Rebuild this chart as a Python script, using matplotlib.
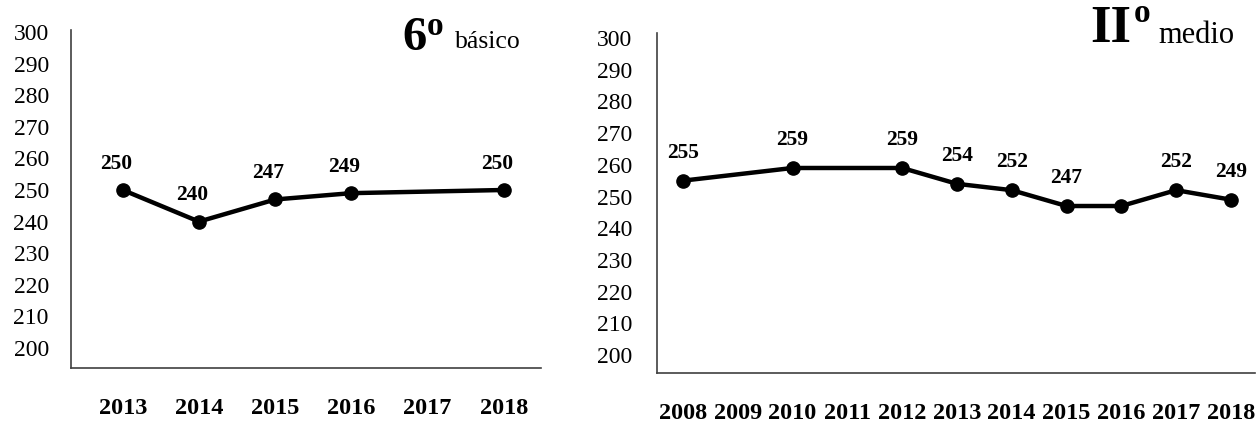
import matplotlib.pyplot as plt

plt.rcParams['font.family'] = ['Liberation Serif', 'DejaVu Serif']

# 6º básico
basico_ticks = [2013, 2014, 2015, 2016, 2017, 2018]
basico_years = [2013, 2014, 2015, 2016, 2018]
basico_vals = [250, 240, 247, 249, 250]
basico_labels = ['250', '240', '247', '249', '250']

# IIº medio
medio_ticks = [2008, 2009, 2010, 2011, 2012, 2013, 2014, 2015, 2016, 2017, 2018]
medio_years = [2008, 2010, 2012, 2013, 2014, 2015, 2016, 2017, 2018]
medio_vals = [255, 259, 259, 254, 252, 247, 247, 252, 249]
medio_labels = ['255', '259', '259', '254', '252', '247', '', '252', '249']

y_ticks = list(range(200, 301, 10))

W, H = 1257, 423
fig = plt.figure(figsize=(W / 100, H / 100), dpi=100)


def px_axes(x0, x1, y_top, y_bot):
    return fig.add_axes([x0 / W, (H - y_bot) / H, (x1 - x0) / W, (y_bot - y_top) / H])


def style(ax, ticks, xlim, ylim, ypad):
    for s in ['top', 'right']:
        ax.spines[s].set_visible(False)
    for s in ['left', 'bottom']:
        ax.spines[s].set_color('#404040')
        ax.spines[s].set_linewidth(1.2)
    ax.set_xlim(*xlim)
    ax.set_ylim(*ylim)
    ax.set_yticks(y_ticks)
    ax.set_xticks(ticks)
    ax.set_xticklabels([str(t) for t in ticks], fontsize=17.5, fontweight='bold')
    ax.tick_params(axis='y', length=0, pad=ypad, labelsize=17)
    ax.tick_params(axis='x', length=0, pad=21.5)


# left panel
ax1 = px_axes(71, 541, 30, 368)
ax1.plot(basico_years, basico_vals, color='black', lw=3.2, marker='o', ms=9.5)
for x, v, t in zip(basico_years, basico_vals, basico_labels):
    ax1.annotate(t, (x, v), xytext=(-5, 19), textcoords='offset points',
                 ha='center', va='center', fontsize=15.5, fontweight='bold')
style(ax1, basico_ticks, (2012.32, 2018.49), (193.7, 300.6), 16)

# right panel
ax2 = px_axes(657, 1255, 33, 373)
ax2.plot(medio_years, medio_vals, color='black', lw=3.2, marker='o', ms=9.5)
for x, v, t in zip(medio_years, medio_vals, medio_labels):
    if t:
        ax2.annotate(t, (x, v), xytext=(0, 20), textcoords='offset points',
                     ha='center', va='center', fontsize=15.5, fontweight='bold')
style(ax2, medio_ticks, (2007.526, 2018.44), (194.3, 301.6), 18)

# panel titles
fig.text(402 / W, (H - 50) / H, '6', fontsize=35, fontweight='bold', va='baseline')
fig.text(427 / W, (H - 35) / H, 'o', fontsize=24, fontweight='bold', va='baseline')
fig.text(455 / W, (H - 48) / H, 'básico', fontsize=18.5, va='baseline')

fig.text(1090 / W, (H - 42) / H, 'II', fontsize=38, fontweight='bold', va='baseline')
fig.text(1134 / W, (H - 22) / H, 'o', fontsize=24, fontweight='bold', va='baseline')
fig.text(1158 / W, (H - 43) / H, 'medio', fontsize=22, va='baseline')

fig.savefig('out.png', dpi=100)
